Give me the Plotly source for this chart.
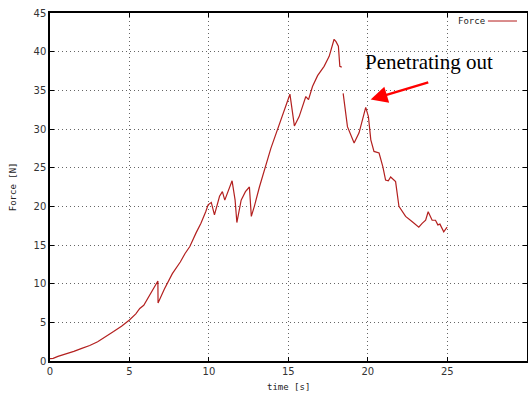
import plotly.graph_objects as go

# time [s]
time_s = [0.0, 0.2, 0.5, 1.0, 1.5, 2.0, 2.5, 3.0, 3.5, 4.0, 4.5, 5.0, 5.4, 5.65, 5.9, 6.2, 6.5, 6.79,
          6.8, 7.2, 7.7, 8.2, 8.5, 8.8, 9.2, 9.5, 9.8, 9.95, 10.15, 10.35, 10.67, 10.85, 11.0,
          11.2, 11.46, 11.65, 11.76, 12.03, 12.3, 12.55, 12.67, 12.86, 13.18, 13.9, 14.5, 15.1,
          15.38, 15.68, 16.1, 16.27, 16.52, 16.84, 17.25, 17.57, 17.88, 18.0, 18.15, 18.24, 18.36,
          18.4, 18.45, 18.72, 19.14, 19.45, 19.87, 20.04, 20.19, 20.39, 20.71, 20.95, 21.12,
          21.29, 21.44, 21.75, 21.96, 22.38, 22.8, 23.21, 23.42, 23.64, 23.8, 24.05, 24.26,
          24.41, 24.54, 24.78, 24.99]
# force [N]
force_n = [0.3, 0.35, 0.6, 0.9, 1.25, 1.64, 2.0, 2.5, 3.1, 3.8, 4.5, 5.3, 6.1, 6.8, 7.2, 8.2, 9.2, 10.35,
           7.5, 9.3, 11.3, 12.8, 13.9, 14.8, 16.6, 17.8, 19.3, 20.2, 20.5, 18.9, 21.3, 21.9, 20.8,
           21.9, 23.3, 20.8, 17.9, 20.8, 21.9, 22.5, 18.7, 20.0, 22.5, 27.5, 31.0, 34.5,
           30.4, 31.6, 34.2, 33.8, 35.5, 36.9, 38.1, 39.4, 41.6, 41.3, 40.7, 38.1, 38.0,
           None, 34.6, 30.3, 28.2, 29.5, 32.8, 31.6, 28.6, 27.1, 26.9, 25.1, 23.4,
           23.3, 23.8, 23.2, 20.0, 18.7, 18.0, 17.3, 17.8, 18.2, 19.3, 18.2, 18.2,
           17.6, 17.7, 16.7, 17.3]

x_ticks = [0, 5, 10, 15, 20, 25, 30]
y_ticks = [0, 5, 10, 15, 20, 25, 30, 35, 40, 45]

line_color = "#b3201f"
tick_font = dict(family="DejaVu Sans", size=10, color="#333333")
mono_font = dict(family="DejaVu Sans Mono", size=9, color="#222222")

fig = go.Figure()
fig.add_trace(go.Scatter(x=time_s, y=force_n, mode="lines", name="Force",
                         line=dict(color=line_color, width=1.2), connectgaps=False,
                         showlegend=False))

axis_common = dict(showline=True, linecolor="black", linewidth=1.5, mirror="allticks",
                   ticks="inside", ticklen=4, tickcolor="black", showgrid=True,
                   gridcolor="#666666", griddash="1px,3px", gridwidth=1, zeroline=False,
                   tickfont=tick_font, automargin=False)

fig.update_xaxes(range=[0, 30.02], tickvals=x_ticks, **axis_common)
fig.update_yaxes(range=[0, 45], tickvals=y_ticks, **axis_common)

# axis titles
fig.add_annotation(xref="paper", yref="paper", x=0.5, y=-0.075, text="time [s]", showarrow=False,
                   xanchor="center", yanchor="middle", font=mono_font)
fig.add_annotation(xref="paper", yref="paper", x=-0.077, y=0.5, text="Force [N]", showarrow=False,
                   xanchor="center", yanchor="middle", textangle=-90, font=mono_font)

# legend key (gnuplot style: text left of line sample)
fig.add_annotation(xref="paper", yref="paper", x=0.916, y=0.977, text="Force", showarrow=False,
                   xanchor="right", yanchor="middle", font=mono_font)
fig.add_shape(type="line", xref="paper", yref="paper", x0=0.918, x1=0.979, y0=0.977, y1=0.977,
              line=dict(color="#c04040", width=1.2))

# annotation text and arrow
fig.add_annotation(xref="x", yref="y", x=19.7, y=38.6, text="Penetrating out", showarrow=False,
                   font=dict(family="Liberation Serif", size=21, color="black"),
                   xanchor="left", yanchor="middle")
fig.add_annotation(xref="x", yref="y", x=20.18, y=33.8, ax=23.9, ay=36.1, axref="x", ayref="y",
                   text="", showarrow=True, arrowhead=2, arrowsize=1.4, arrowwidth=2.4,
                   arrowcolor="red")

fig.update_layout(width=528, height=395, margin=dict(l=50, r=1, t=13, b=34),
                  paper_bgcolor="white", plot_bgcolor="white")

fig.write_html("out.html", config={"displayModeBar": False},
               post_script="document.body.style.margin='0';document.body.style.overflow='hidden';")
